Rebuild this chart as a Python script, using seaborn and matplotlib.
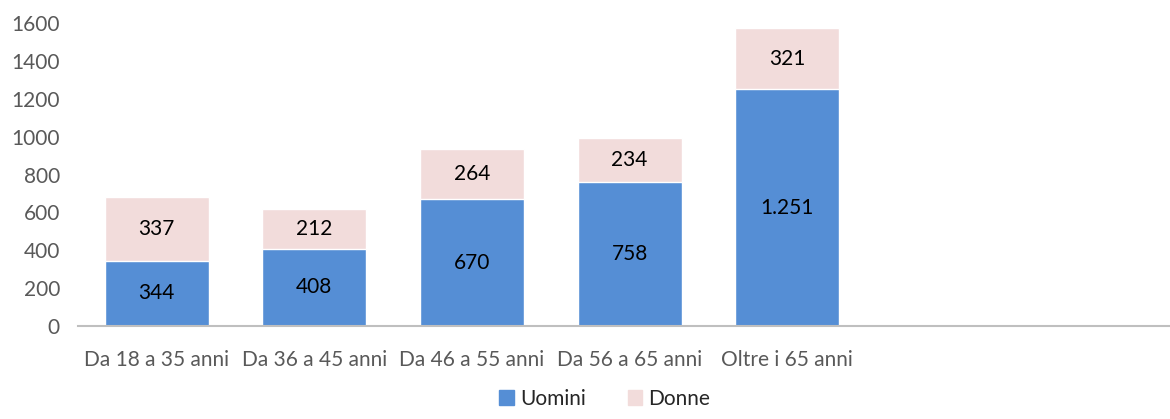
import matplotlib
matplotlib.use("Agg")
import matplotlib.pyplot as plt
import seaborn as sns
import pandas as pd
from matplotlib.patches import Patch

# data
categories = ["Da 18 a 35 anni", "Da 36 a 45 anni", "Da 46 a 55 anni",
              "Da 56 a 65 anni", "Oltre i 65 anni"]
uomini = [344, 408, 670, 758, 1251]
donne = [337, 212, 264, 234, 321]

blue = "#558ED5"
pink = "#F2DCDB"

df = pd.DataFrame({"cat": categories, "uomini": uomini, "donne": donne})
df["totale"] = df["uomini"] + df["donne"]

sns.set_style("white")
plt.rcParams["font.family"] = ["Lato", "DejaVu Sans"]

fig = plt.figure(figsize=(11.7, 4.19), dpi=100)
ax = fig.add_axes([0.0667, 0.222, 0.9333, 0.723])

# total first (pink on top), then men over it
sns.barplot(data=df, x="cat", y="totale", color=pink, width=0.66,
            saturation=1, ax=ax)
sns.barplot(data=df, x="cat", y="uomini", color=blue, width=0.66,
            saturation=1, ax=ax)

def fmt(v):
    return f"{v:,}".replace(",", ".")

for i, row in df.iterrows():
    ax.text(i, row["uomini"] / 2, fmt(row["uomini"]), ha="center", va="center",
            fontsize=15, color="black")
    ax.text(i, row["uomini"] + row["donne"] / 2, fmt(row["donne"]),
            ha="center", va="center", fontsize=15, color="black")

ax.set_ylim(0, 1600)
ax.set_xlim(-0.5, 6.43)
ax.set_yticks(range(0, 1601, 200))
ax.set_xlabel("")
ax.set_ylabel("")
ax.tick_params(axis="both", length=0, labelsize=15, labelcolor="#595959")
ax.tick_params(axis="x", pad=17)
ax.tick_params(axis="y", pad=13)
for s in ["top", "right", "left"]:
    ax.spines[s].set_visible(False)
ax.spines["bottom"].set_color("#BFBFBF")
ax.spines["bottom"].set_linewidth(1.5)

handles = [Patch(color=blue, label="Uomini"), Patch(color=pink, label="Donne")]
fig.legend(handles=handles, loc="lower center", bbox_to_anchor=(0.517, -0.01),
           ncol=2, frameon=False, fontsize=15, handlelength=0.7,
           handleheight=0.7, handletextpad=0.3, columnspacing=2.0,
           borderpad=0.2)

fig.savefig("out.png", dpi=100)
